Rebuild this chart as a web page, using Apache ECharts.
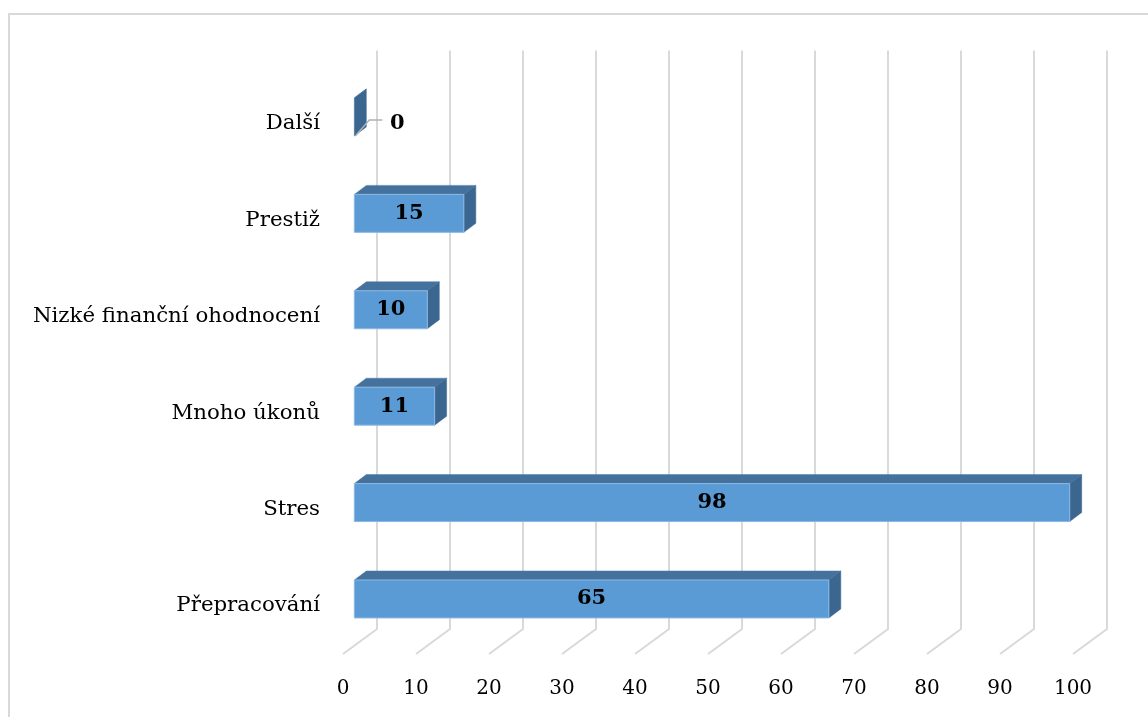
<!DOCTYPE html>
<html>
<head>
<meta charset="utf-8">
<script src="https://cdn.jsdelivr.net/npm/echarts@6/dist/echarts.min.js"></script>
<style>
  html, body { margin: 0; padding: 0; background: #ffffff; }
  #chart { width: 1148px; height: 717px; }
</style>
</head>
<body>
<div id="chart"></div>
<script>
// Categories listed bottom to top, with their values
const categories = ['Přepracování', 'Stres', 'Mnoho úkonů', 'Nizké finanční ohodnocení', 'Prestiž', 'Další'];
const values = [65, 98, 11, 10, 15, 0];
const xTicks = [0, 10, 20, 30, 40, 50, 60, 70, 80, 90, 100];

const FONT = 'DejaVu Serif';
// Oblique depth of the floor (front edge to back wall), in pixels
const DEPTH_X = 34, DEPTH_Y = -25;
// Bars occupy the middle third of the depth
const BAR_DX = 12, BAR_DY = -9;
const BAR_RATIO = 0.394;

const chart = echarts.init(document.getElementById('chart'), null, { renderer: 'canvas' });

function renderWall(params, api) {
  const cs = params.coordSys;
  const v = api.value(0);
  const x = api.coord([v, 0])[0];
  const floorY = cs.y + cs.height;
  return {
    type: 'polyline',
    shape: {
      points: [
        [x, floorY],
        [x + DEPTH_X, floorY + DEPTH_Y],
        [x + DEPTH_X, cs.y + DEPTH_Y]
      ]
    },
    style: { stroke: '#d9d9d9', lineWidth: 2, fill: null },
    silent: true
  };
}

function renderBar(params, api) {
  const v = api.value(0);
  const i = api.value(1);
  const p0 = api.coord([0, i]);
  const p1 = api.coord([v, i]);
  const yc = p0[1];
  const h = api.size([0, 1])[1] * BAR_RATIO;
  const fx0 = p0[0] + DEPTH_X / 3;
  const fx1 = p1[0] + DEPTH_X / 3;
  const fy = yc + DEPTH_Y / 3 + 1.5 - h / 2;

  const children = [];
  // top face
  children.push({
    type: 'polygon',
    shape: { points: [[fx0, fy], [fx1, fy], [fx1 + BAR_DX, fy + BAR_DY], [fx0 + BAR_DX, fy + BAR_DY]] },
    style: { fill: '#44729d', stroke: '#4a79a6', lineWidth: 0.5 }
  });
  // right side face
  children.push({
    type: 'polygon',
    shape: { points: [[fx1, fy], [fx1 + BAR_DX, fy + BAR_DY], [fx1 + BAR_DX, fy + h + BAR_DY], [fx1, fy + h]] },
    style: { fill: '#3b6690', stroke: '#41709b', lineWidth: 0.5 }
  });
  if (v > 0) {
    // front face
    children.push({
      type: 'rect',
      shape: { x: fx0, y: fy, width: fx1 - fx0, height: h },
      style: { fill: '#5b9bd5', stroke: '#8cb8e3', lineWidth: 1 }
    });
    children.push({
      type: 'text',
      style: {
        x: (fx0 + fx1) / 2, y: fy + h / 2,
        text: String(v),
        fill: '#000000',
        font: 'bold 21px "' + FONT + '"',
        align: 'center', verticalAlign: 'middle'
      }
    });
  } else {
    // leader line to the outside label
    const ly = fy + h - 16;
    children.push({
      type: 'polyline',
      shape: { points: [[fx1 + 1, fy + h], [fx1 + 15, ly], [fx1 + 28, ly]] },
      style: { stroke: '#b0b0b0', lineWidth: 1.5, fill: null }
    });
    children.push({
      type: 'text',
      style: {
        x: fx1 + BAR_DX + 31, y: yc,
        text: String(v),
        fill: '#000000',
        font: 'bold 21px "' + FONT + '"',
        align: 'center', verticalAlign: 'middle'
      }
    });
  }
  return { type: 'group', children: children };
}

const option = {
  backgroundColor: '#ffffff',
  animation: false,
  graphic: [{
    type: 'rect',
    shape: { x: 9, y: 14, width: 1300, height: 900 },
    style: { fill: null, stroke: '#d9d9d9', lineWidth: 2 },
    silent: true,
    z: -10
  }],
  grid: {
    left: 343, right: 75, top: 75.6, bottom: 63,
    containLabel: false,
    outerBoundsMode: 'none'
  },
  xAxis: {
    type: 'value',
    min: 0, max: 100, interval: 10,
    axisLine: { show: false },
    axisTick: { show: false },
    splitLine: { show: false },
    axisLabel: {
      margin: 25,
      fontFamily: FONT,
      fontSize: 20,
      color: '#000000'
    }
  },
  yAxis: {
    type: 'category',
    data: categories,
    axisLine: { show: false },
    axisTick: { show: false },
    splitLine: { show: false },
    axisLabel: {
      margin: 23,
      fontFamily: FONT,
      fontSize: 21.3,
      color: '#000000'
    }
  },
  series: [
    {
      type: 'custom',
      renderItem: renderWall,
      data: xTicks.map(v => [v, 0]),
      encode: { x: 0, y: 1 },
      clip: false,
      silent: true,
      z: 1
    },
    {
      type: 'custom',
      renderItem: renderBar,
      data: values.map((v, i) => [v, i]),
      encode: { x: 0, y: 1 },
      clip: false,
      z: 2
    }
  ]
};

chart.setOption(option);
</script>
</body>
</html>
